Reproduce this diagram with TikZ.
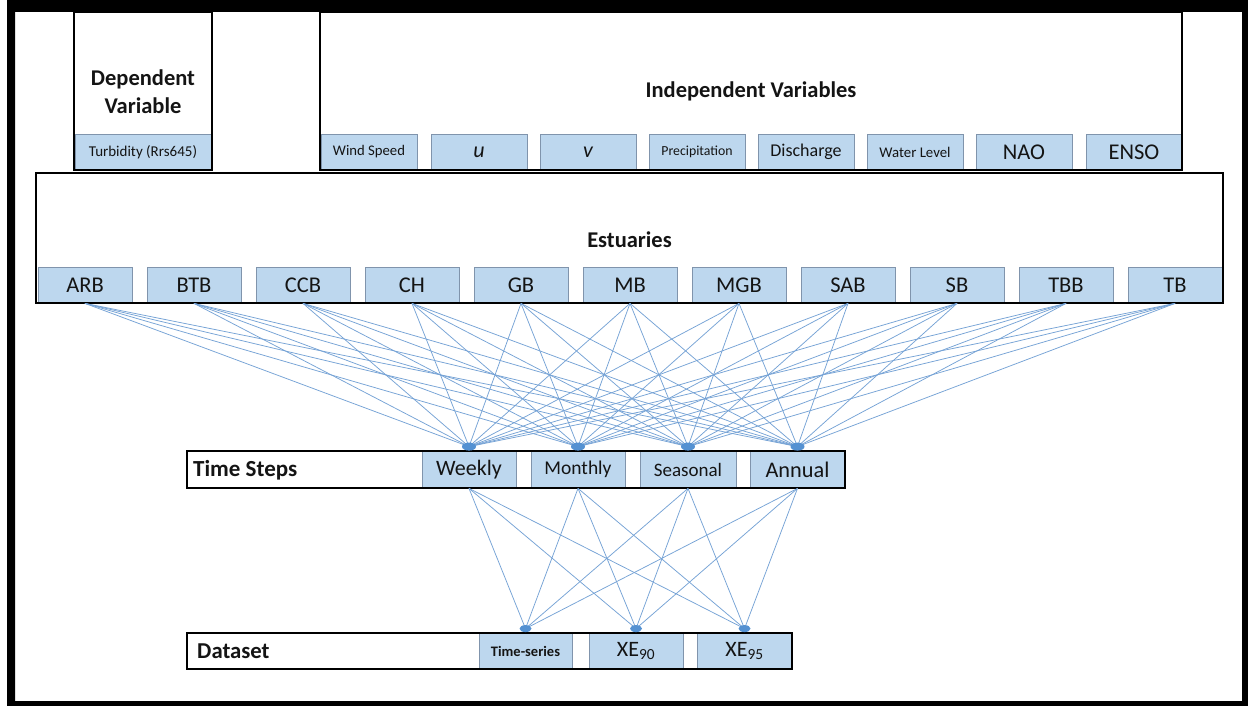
\documentclass[tikz,border=0pt]{standalone}
\usepackage{fontspec}
\setmainfont{Carlito}
\usetikzlibrary{calc}
\definecolor{cellfill}{RGB}{189,215,238}
\definecolor{cellline}{RGB}{128,148,172}
\definecolor{linkblue}{RGB}{118,163,214}
\definecolor{dotblue}{RGB}{84,145,210}
\definecolor{inkdark}{RGB}{20,20,20}
\newcommand{\fsz}[1]{\fontsize{#1pt}{1.2\dimexpr#1pt\relax}\selectfont}
\tikzset{
  cell/.style={fill=cellfill, draw=cellline, line width=0.8pt, inner sep=0pt, text=inkdark, minimum height=36pt},
  blackbox/.style={draw=black, line width=2.6pt, inner sep=0pt},
  heading/.style={font=\bfseries\fsz{22.5}, text=inkdark, inner sep=0pt, align=center},
  link/.style={draw=linkblue, line width=0.75pt},
  hub/.style={fill=dotblue}
}
\begin{document}
\begin{tikzpicture}[x=1pt, y=-1pt]
% canvas and outer frame
\fill[white] (0,0) rectangle (1248,706);
\useasboundingbox (0,0) rectangle (1248,706);
\fill[black, even odd rule] (7,0) rectangle (1248,706) (15,12) rectangle (1242,701);

% ---------- Dependent variable ----------
\node[cell, minimum width=136pt, font=\fsz{15}] (turb) at (143,152) {Turbidity (Rrs645)};
\node[blackbox, minimum width=138pt, minimum height=158pt] (depbox) at (143,91) {};
\node[heading, font=\bfseries\fontsize{22.5pt}{28pt}\selectfont] (deptitle) at (143,92) {Dependent\\Variable};

% ---------- Independent variables ----------
\node[cell, minimum width=96pt, font=\fsz{14.7}] (wind) at (369,152) {Wind Speed};
\node[cell, minimum width=96pt, font=\itshape\fsz{22}] (u) at (479,152) {u};
\node[cell, minimum width=96pt, font=\itshape\fsz{22}] (v) at (588,152) {v};
\node[cell, minimum width=96pt, font=\fsz{13.8}] (prec) at (697,152) {Precipitation};
\node[cell, minimum width=96pt, font=\fsz{18}] (disc) at (806,152) {Discharge};
\node[cell, minimum width=96pt, font=\fsz{14.8}] (wlev) at (915,152) {Water Level};
\node[cell, minimum width=96pt, font=\fsz{22.5}] (nao) at (1024,152) {NAO};
\node[cell, minimum width=96pt, font=\fsz{22.5}] (enso) at (1134,152) {ENSO};
\node[blackbox, minimum width=862pt, minimum height=158pt] (indbox) at (751,91) {};
\node[heading] (indtitle) at (751,91) {Independent Variables};

% ---------- Estuaries ----------
\foreach \lab [count=\i from 0] in {ARB,BTB,CCB,CH,GB,MB,MGB,SAB,SB,TBB,TB}{
  \node[cell, minimum width=94pt, font=\fsz{22.5}] (est\i) at ({85+109*\i},285) {\lab};
}
\node[blackbox, minimum width=1187pt, minimum height=130pt] (estbox) at (629.5,238) {};
\node[heading] (esttitle) at (629.5,240) {Estuaries};

% ---------- Time steps ----------
\node[cell, minimum width=94pt, minimum height=37pt, font=\fsz{22}] (ts0) at (469,469.5) {Weekly};
\node[cell, minimum width=94pt, minimum height=37pt, font=\fsz{19.5}] (ts1) at (578,469.5) {Monthly};
\node[cell, minimum width=96pt, minimum height=37pt, font=\fsz{19}] (ts2) at (688,469.5) {Seasonal};
\node[cell, minimum width=95pt, minimum height=37pt, font=\fsz{22.3}] (ts3) at (797.5,469.5) {Annual};
\node[blackbox, minimum width=658pt, minimum height=37pt] (tsbox) at (516,469.5) {};
\node[heading, anchor=west, font=\bfseries\fsz{23}] (tstitle) at (193,470) {Time Steps};

% ---------- Dataset ----------
\node[cell, minimum width=93pt, font=\bfseries\fsz{14.5}] (ds0) at (525.5,651) {Time-series};
\node[cell, minimum width=94pt, font=\fsz{22}] (ds1) at (636,651) {XE\textsubscript{90}};
\node[cell, minimum width=95pt, font=\fsz{22}] (ds2) at (744.5,651) {XE\textsubscript{95}};
\node[blackbox, minimum width=605pt, minimum height=36pt] (dsbox) at (489.5,651) {};
\node[heading, anchor=west, font=\bfseries\fsz{22.7}] (dstitle) at (197,651) {Dataset};

% ---------- hubs ----------
\foreach \k in {0,1,2,3}{
  \coordinate (tshub\k) at ($(ts\k.north)+(0,-4)$);
}
\foreach \k in {0,1,2}{
  \coordinate (dshub\k) at ($(ds\k.north)+(0,-4)$);
}

% ---------- connectors ----------
\foreach \i in {0,...,10}{
  \foreach \k in {0,1,2,3}{
    \draw[link] (est\i.south) -- (tshub\k);
  }
}
\foreach \k in {0,1,2,3}{
  \foreach \j in {0,1,2}{
    \draw[link] (ts\k.south) -- (dshub\j);
  }
}
\foreach \k in {0,1,2,3}{
  \fill[hub] (tshub\k) ellipse [x radius=7pt, y radius=4pt];
}
\foreach \j in {0,1,2}{
  \fill[hub] (dshub\j) ellipse [x radius=6pt, y radius=3.5pt];
}
\end{tikzpicture}
\end{document}
